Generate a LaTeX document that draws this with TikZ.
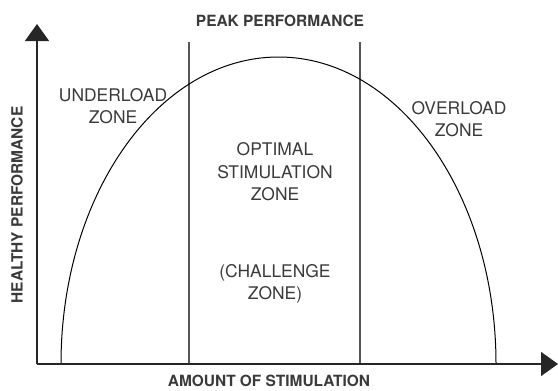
\documentclass[tikz,border=0pt]{standalone}
\usepackage{fontspec}
\setmainfont{TeX Gyre Heros}
\usetikzlibrary{arrows.meta}
\definecolor{inkgray}{HTML}{3A3A3A}
\definecolor{zonegray}{HTML}{555555}
\tikzset{
    zonelabel/.style={text=inkgray, align=center, inner sep=0pt,
        font=\fontsize{17.5}{22.5}\selectfont},
    axislabel/.style={text=inkgray, inner sep=0pt,
        font=\fontsize{15.5}{18}\selectfont\bfseries},
    axisline/.style={draw=black!85, line width=1.4bp,
        -{Triangle[length=17bp, width=24bp]}},
    zoneline/.style={draw=zonegray, line width=1.2bp}
}
\begin{document}
\begin{tikzpicture}[x=1bp, y=1bp]
        \useasboundingbox (0,0) rectangle (558,390);
        \coordinate (o) at (37,26);
        \coordinate (ytip) at (37,366);
        \coordinate (xtip) at (558,26);
        \coordinate (l1) at (189,26);
        \coordinate (l1t) at (189,348);
        \coordinate (l2) at (360,26);
        \coordinate (l2t) at (360,348);
        \coordinate (foot) at (61,26);
        \draw[zoneline] (l1) -- (l1t);
        \draw[zoneline] (l2) -- (l2t);
        \draw[black, line width=1bp] (foot) arc[start angle=180, end angle=0,
            x radius=217.5, y radius=307];
        \draw[axisline] (o) -- (ytip);
        \draw[axisline] (o) -- (xtip);
        \node[axislabel] (peak) at (280,369.5) {PEAK PERFORMANCE};
        \node[axislabel] (amount) at (269,9) {AMOUNT OF STIMULATION};
        \node[axislabel, rotate=90] (healthy) at (17,185) {HEALTHY PERFORMANCE};
        \node[zonelabel] (under) at (113,284) {UNDERLOAD\\ZONE};
        \node[zonelabel] (over) at (459,271) {OVERLOAD\\ZONE};
        \node[zonelabel] (optimal) at (275,218) {OPTIMAL\\STIMULATION\\ZONE};
        \node[zonelabel] (challenge) at (275,106) {(CHALLENGE\\ZONE)};
    \end{tikzpicture}
\end{document}
